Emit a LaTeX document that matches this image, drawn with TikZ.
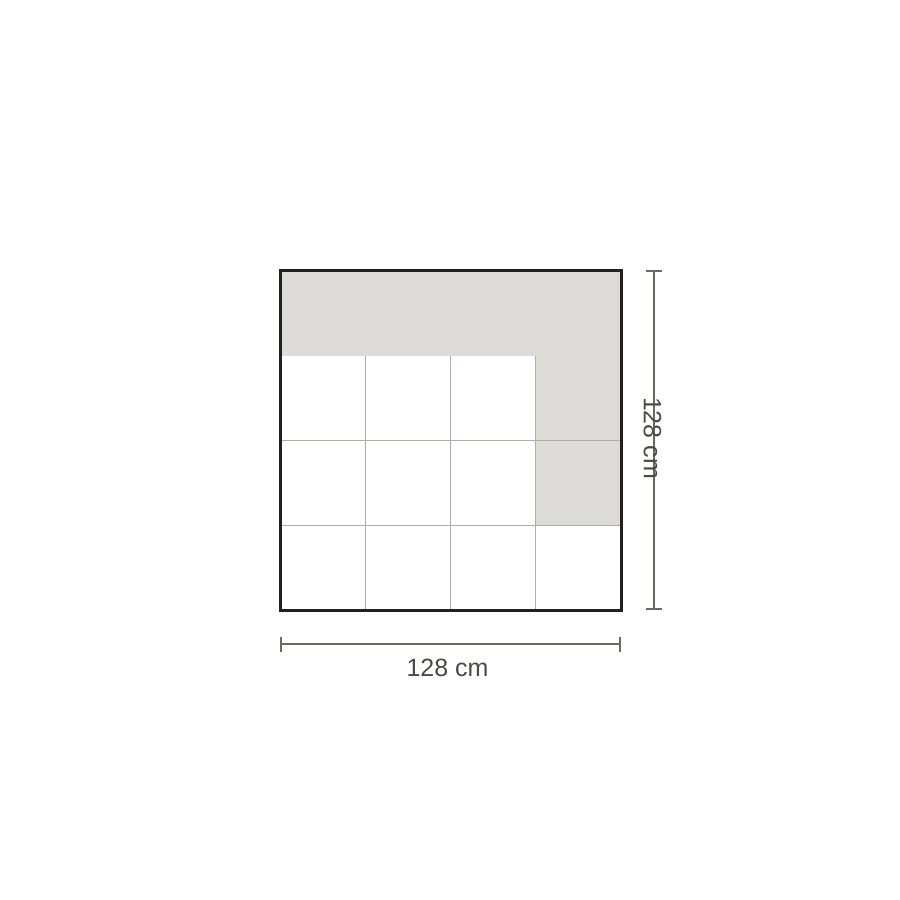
\documentclass[tikz,border=0pt]{standalone}
\usepackage{fontspec}
\setmainfont{Liberation Sans}
\definecolor{tilegrey}{HTML}{DCDBD8}
\definecolor{gridgrey}{HTML}{B0ACA8}
\definecolor{frame}{HTML}{231F20}
\definecolor{dimgrey}{HTML}{6D6864}
\definecolor{labelgrey}{HTML}{4D4845}
\begin{document}
\begin{tikzpicture}[x=1pt,y=-1pt,
  gridline/.style={draw=gridgrey,line width=1pt},
  dimline/.style={draw=dimgrey,line width=2pt},
  dimlabel/.style={text=labelgrey,font=\fontsize{25}{25}\selectfont,inner sep=0pt}]
\useasboundingbox[fill=white] (0,0) rectangle (900,900);
% grey fills
\fill[tilegrey] (280.5,270.5) rectangle (621,355);
\fill[tilegrey] (535.5,355) rectangle (621,525);
% grid lines
\draw[gridline] (365.5,355) -- (365.5,610);
\draw[gridline] (450.5,355) -- (450.5,610);
\draw[gridline] (535.5,355) -- (535.5,610);
\draw[draw=gridgrey!40,line width=1pt] (280.5,355) -- (621,355);
\draw[gridline] (280.5,440) -- (621,440);
\draw[gridline] (280.5,525) -- (621,525);
% frame
\draw[frame,line width=3pt] (280.5,270.5) rectangle (621,610);
% bottom dimension
\coordinate (bl) at (281,644);
\coordinate (br) at (620,644);
\draw[dimline] (bl) -- (br);
\draw[dimline] ([yshift=-7.5pt]bl) -- ([yshift=7.5pt]bl);
\draw[dimline] ([yshift=-7.5pt]br) -- ([yshift=7.5pt]br);
\node[dimlabel] (wlabel) at (447.5,667.5) {128 cm};
% right dimension
\coordinate (rt) at (654,271);
\coordinate (rb) at (654,609);
\draw[dimline] (rt) -- (rb);
\draw[dimline] ([xshift=-8pt]rt) -- ([xshift=8pt]rt);
\draw[dimline] ([xshift=-8pt]rb) -- ([xshift=8pt]rb);
\node[dimlabel,rotate=-90] (hlabel) at (652.5,438) {128 cm};
\end{tikzpicture}
\end{document}
